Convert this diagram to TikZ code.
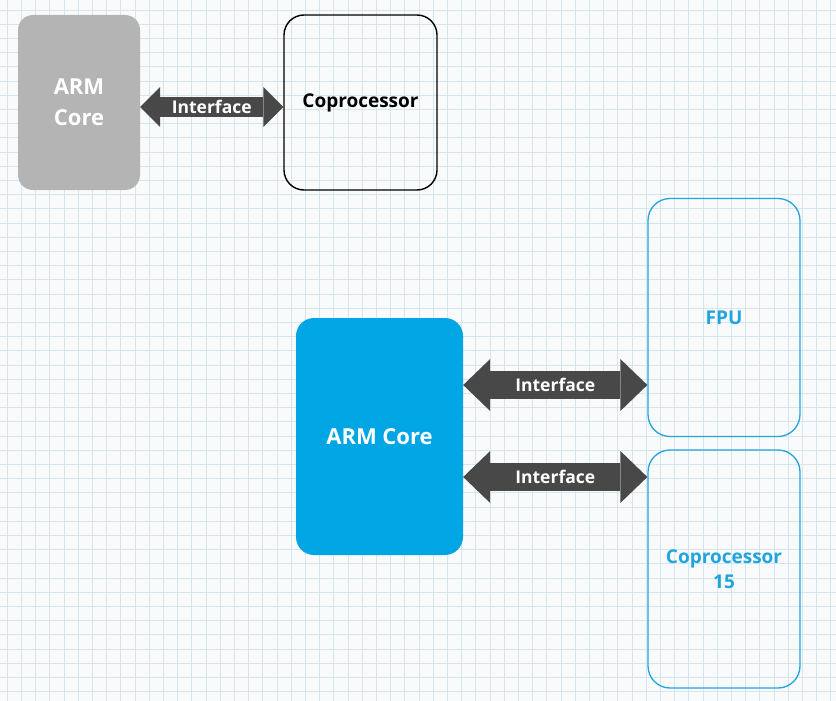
\documentclass[tikz,border=0pt]{standalone}
\usepackage{fontspec}
\setmainfont{Open Sans}
\usetikzlibrary{arrows.meta}

\definecolor{gridline}{HTML}{D6E6EC}
\definecolor{paper}{HTML}{F8FAFB}
\definecolor{coregray}{HTML}{B4B4B4}
\definecolor{coreblue}{HTML}{00A5E3}
\definecolor{linkgray}{HTML}{484848}
\definecolor{unitblue}{HTML}{22A4DF}

\begin{document}
\begin{tikzpicture}[x=1pt,y=-1pt,
	graycore/.style={rectangle,rounded corners=15pt,fill=coregray,text=white,
		minimum width=122,minimum height=175,inner sep=0pt,align=center,
		font=\fontsize{22}{31}\selectfont\bfseries},
	copro/.style={rectangle,rounded corners=20pt,draw=black,line width=1.4pt,
		minimum width=153,minimum height=175,inner sep=0pt,align=center,
		font=\fontsize{19}{23}\selectfont\bfseries},
	bluecore/.style={rectangle,rounded corners=18pt,fill=coreblue,text=white,
		minimum width=167,minimum height=237,inner sep=0pt,align=center,
		font=\fontsize{22}{26}\selectfont\bfseries},
	unit/.style={rectangle,rounded corners=22pt,draw=unitblue,line width=1.3pt,text=unitblue,
		minimum width=152,minimum height=238,inner sep=0pt,align=center,
		font=\fontsize{19}{25}\selectfont\bfseries},
	link/.style={draw=linkgray,fill=linkgray,line width=20pt,
		{Triangle[length=20pt,width=40pt,line width=0pt]}-{Triangle[length=20pt,width=40pt,line width=0pt]}},
	biglink/.style={draw=linkgray,fill=linkgray,line width=28pt,
		{Triangle[length=27pt,width=52pt,line width=0pt]}-{Triangle[length=27pt,width=52pt,line width=0pt]}},
	linklabel/.style={text=white,font=\fontsize{17.5}{20}\selectfont\bfseries}]

	\useasboundingbox[fill=paper] (0,0) rectangle (836,701);
	\foreach \i in {0,...,58} {
		\draw[gridline,line width=0.9pt] (7.3+14.2*\i,0) -- (7.3+14.2*\i,701);
	}
	\foreach \i in {0,...,49} {
		\draw[gridline,line width=0.9pt] (0,10+14.2*\i) -- (836,10+14.2*\i);
	}

	\node[graycore] (oldcore) at (79, 102.5)    {ARM\\Core};
	\node[copro]    (oldcop)  at (360.5, 102.5) {Coprocessor};
	\node[bluecore] (core)    at (379.5, 436.5) {ARM Core};
	\node[unit]     (fpu)     at (724, 317.5)   {FPU};
	\node[unit]     (cp15)    at (724, 569)     {Coprocessor\\15};

	\draw[link] ([yshift=-4.5pt]oldcore.east) -- ([yshift=-4.5pt]oldcore.east -| oldcop.west)
		node[midway,linklabel] {Interface};
	\draw[biglink] ([yshift=51.5pt]core.east) -- ([yshift=51.5pt]core.east -| fpu.west)
		node[midway,linklabel] {Interface};
	\draw[biglink] ([yshift=-40.5pt]core.east) -- ([yshift=-40.5pt]core.east -| cp15.west)
		node[midway,linklabel] {Interface};

\end{tikzpicture}
\end{document}
